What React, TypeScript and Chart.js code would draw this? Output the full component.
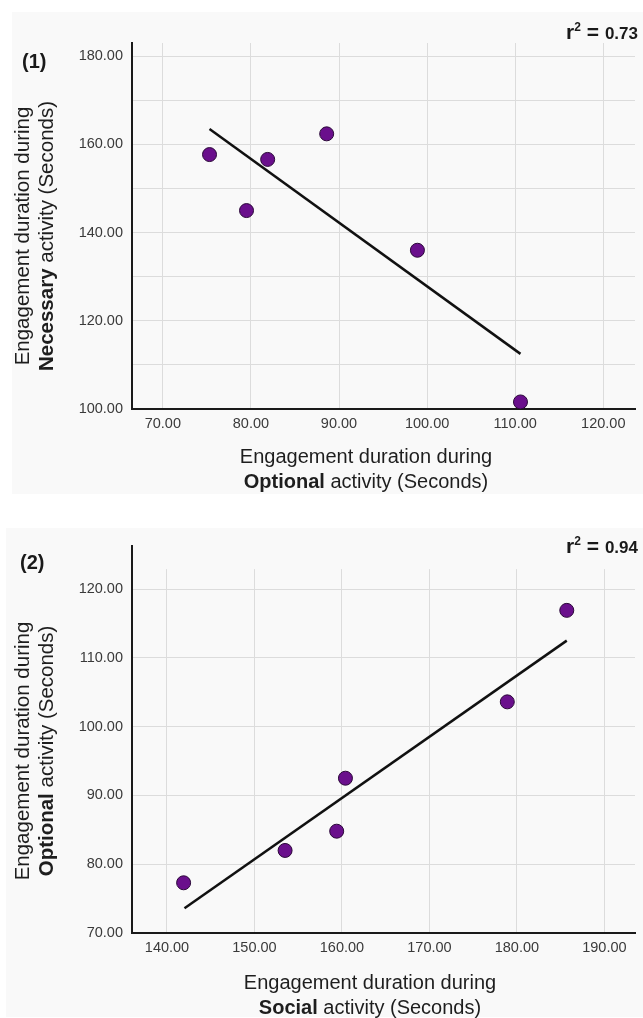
import React, { useEffect, useRef } from "react";
import { Chart, registerables } from "chart.js";

Chart.register(...registerables);

// ---------- Panel (1): Optional (x) vs Necessary (y) ----------
const optionalX1 = [75.3, 79.5, 81.9, 88.6, 98.9, 110.6];
const necessaryY1 = [157.7, 145.0, 156.6, 162.4, 136.0, 101.6];
const fitX1 = [75.3, 110.6];
const fitY1 = [163.5, 112.5];
const xTicks1 = [70, 80, 90, 100, 110, 120];
const yGrid1 = [100, 110, 120, 130, 140, 150, 160, 170, 180];
const yLabels1 = [100, 120, 140, 160, 180];
const r2Value1 = "0.73";

// ---------- Panel (2): Social (x) vs Optional (y) ----------
const socialX2 = [141.9, 153.5, 159.4, 160.4, 178.9, 185.7];
const optionalY2 = [77.3, 82.0, 84.8, 92.5, 103.6, 116.9];
const fitX2 = [142.0, 185.7];
const fitY2 = [73.6, 112.5];
const xTicks2 = [140, 150, 160, 170, 180, 190];
const yGrid2 = [70, 80, 90, 100, 110, 120];
const yLabels2 = [70, 80, 90, 100, 110, 120];
const r2Value2 = "0.94";

const FONT = "'Liberation Sans', Arial, Helvetica, sans-serif";
const PANEL_BG = "#f9f9f9";

type PanelProps = {
  width: number;
  height: number;
  xs: number[];
  ys: number[];
  fitXs: number[];
  fitYs: number[];
  xTicks: number[];
  yGrid: number[];
  yLabels: number[];
  xMin: number;
  xMax: number;
  yMin: number;
  yMax: number;
  yAxisWidth: number;
  xAxisHeight: number;
  padTop: number;
  padRight: number;
  vGridTop?: number;
};

function ScatterPanel(p: PanelProps) {
  const ref = useRef<HTMLCanvasElement | null>(null);
  useEffect(() => {
    if (!ref.current) return;
    const points = p.xs.map((x, i) => ({ x, y: p.ys[i] }));
    const fit = p.fitXs.map((x, i) => ({ x, y: p.fitYs[i] }));
    const coverPlugin = {
      id: "coverTop",
      beforeDatasetsDraw(chart: any) {
        if (p.vGridTop === undefined) return;
        const { ctx, chartArea } = chart;
        const yPix = chart.scales.y.getPixelForValue(p.vGridTop);
        ctx.save();
        ctx.fillStyle = PANEL_BG;
        ctx.fillRect(chartArea.left + 1.2, chartArea.top - 1, chartArea.right - chartArea.left + 2, yPix - chartArea.top + 1);
        ctx.restore();
      },
    };
    const chart = new Chart(ref.current, {
      type: "scatter",
      data: {
        datasets: [
          {
            label: "points",
            data: points,
            order: 0,
            pointRadius: 7,
            pointHoverRadius: 7,
            backgroundColor: "#6a0f8c",
            borderColor: "#2a0838",
            borderWidth: 1,
          },
          {
            label: "fit",
            data: fit,
            order: 1,
            showLine: true,
            pointRadius: 0,
            borderColor: "#111111",
            borderWidth: 2.5,
            backgroundColor: "#111111",
          } as any,
        ],
      },
      options: {
        animation: false,
        responsive: false,
        maintainAspectRatio: false,
        devicePixelRatio: 1,
        layout: { padding: { top: p.padTop, right: p.padRight, left: 0, bottom: 0 } },
        plugins: { legend: { display: false }, tooltip: { enabled: false } },
        scales: {
          x: {
            type: "linear",
            min: p.xMin,
            max: p.xMax,
            afterBuildTicks: (s: any) => {
              s.ticks = p.xTicks.map((v) => ({ value: v }));
            },
            afterFit: (s: any) => {
              s.height = p.xAxisHeight;
            },
            ticks: {
              padding: 6,
              color: "#3a3a3a",
              font: { family: FONT, size: 14.5 },
              callback: (v: any) => Number(v).toFixed(2),
              maxRotation: 0,
              autoSkip: false,
            },
            grid: { color: "#dcdcdc", lineWidth: 1, drawTicks: false },
            border: { display: true, color: "#1a1a1a", width: 2 },
          },
          y: {
            type: "linear",
            min: p.yMin,
            max: p.yMax,
            afterBuildTicks: (s: any) => {
              s.ticks = p.yGrid.map((v) => ({ value: v }));
            },
            afterFit: (s: any) => {
              s.width = p.yAxisWidth;
            },
            ticks: {
              padding: 9,
              color: "#3a3a3a",
              font: { family: FONT, size: 14.5 },
              autoSkip: false,
              callback: (v: any) => (p.yLabels.includes(Number(v)) ? Number(v).toFixed(2) : ""),
            },
            grid: { color: "#dcdcdc", lineWidth: 1, drawTicks: false },
            border: { display: true, color: "#1a1a1a", width: 2 },
          },
        },
      } as any,
      plugins: [coverPlugin],
    });
    return () => chart.destroy();
  }, []);
  return (
    <canvas
      ref={ref}
      width={p.width}
      height={p.height}
      style={{ width: p.width, height: p.height, display: "block" }}
    />
  );
}

function XTitle({ cx, top, bold, rest }: { cx: number; top: number; bold: string; rest: string }) {
  return (
    <div
      style={{
        position: "absolute",
        left: cx - 220,
        top,
        width: 440,
        textAlign: "center",
        fontSize: 20,
        lineHeight: "25px",
        color: "#1e1e1e",
        whiteSpace: "nowrap",
      }}
    >
      <div>Engagement duration during</div>
      <div>
        <b>{bold}</b> {rest}
      </div>
    </div>
  );
}

function YTitle({ cx, cy, bold, rest }: { cx: number; cy: number; bold: string; rest: string }) {
  return (
    <div
      style={{
        position: "absolute",
        left: cx - 200,
        top: cy - 24,
        width: 400,
        height: 48,
        textAlign: "center",
        fontSize: 20.5,
        lineHeight: "24px",
        color: "#1e1e1e",
        whiteSpace: "nowrap",
        transform: "rotate(-90deg)",
        transformOrigin: "50% 50%",
      }}
    >
      <div>Engagement duration during</div>
      <div>
        <b>{bold}</b> {rest}
      </div>
    </div>
  );
}

function R2({ top, value }: { top: number; value: string }) {
  return (
    <div
      style={{
        position: "absolute",
        right: 5,
        top,
        fontWeight: "bold",
        color: "#1a1a1a",
        whiteSpace: "nowrap",
        lineHeight: "22px",
      }}
    >
      <span style={{ fontSize: 21 }}>r</span>
      <sup style={{ fontSize: 12, verticalAlign: "8px" }}>2</sup>
      <span style={{ fontSize: 21 }}> = </span>
      <span style={{ fontSize: 17 }}>{value}</span>
    </div>
  );
}

function PanelLabel({ left, top, text }: { left: number; top: number; text: string }) {
  return (
    <div
      style={{
        position: "absolute",
        left,
        top,
        fontSize: 20,
        fontWeight: "bold",
        lineHeight: "22px",
        color: "#1a1a1a",
      }}
    >
      {text}
    </div>
  );
}

export default function App() {
  return (
    <div
      style={{
        position: "absolute",
        left: 0,
        top: 0,
        width: 643,
        height: 1018,
        background: "#ffffff",
        fontFamily: FONT,
        overflow: "hidden",
      }}
    >
      <div style={{ position: "absolute", left: 12, top: 12, width: 631, height: 482, background: PANEL_BG }}>
        <ScatterPanel
          width={631}
          height={482}
          xs={optionalX1}
          ys={necessaryY1}
          fitXs={fitX1}
          fitYs={fitY1}
          xTicks={xTicks1}
          yGrid={yGrid1}
          yLabels={yLabels1}
          xMin={66.5}
          xMax={123.6}
          yMin={100}
          yMax={183}
          yAxisWidth={120}
          xAxisHeight={85}
          padTop={31}
          padRight={7}
        />
      </div>
      <div style={{ position: "absolute", left: 6, top: 528, width: 637, height: 489, background: PANEL_BG }}>
        <ScatterPanel
          width={637}
          height={489}
          xs={socialX2}
          ys={optionalY2}
          fitXs={fitX2}
          fitYs={fitY2}
          xTicks={xTicks2}
          yGrid={yGrid2}
          yLabels={yLabels2}
          xMin={136.0}
          xMax={193.5}
          yMin={70}
          yMax={126.3}
          yAxisWidth={126}
          xAxisHeight={84}
          padTop={10}
          padRight={0}
          vGridTop={122.9}
        />
      </div>

      <PanelLabel left={22} top={50} text="(1)" />
      <R2 top={16} value={r2Value1} />
      <YTitle cx={34} cy={236} bold="Necessary" rest="activity (Seconds)" />
      <XTitle cx={366} top={444} bold="Optional" rest="activity (Seconds)" />

      <PanelLabel left={20} top={551} text="(2)" />
      <R2 top={530} value={r2Value2} />
      <YTitle cx={34} cy={751} bold="Optional" rest="activity (Seconds)" />
      <XTitle cx={370} top={970} bold="Social" rest="activity (Seconds)" />
    </div>
  );
}
